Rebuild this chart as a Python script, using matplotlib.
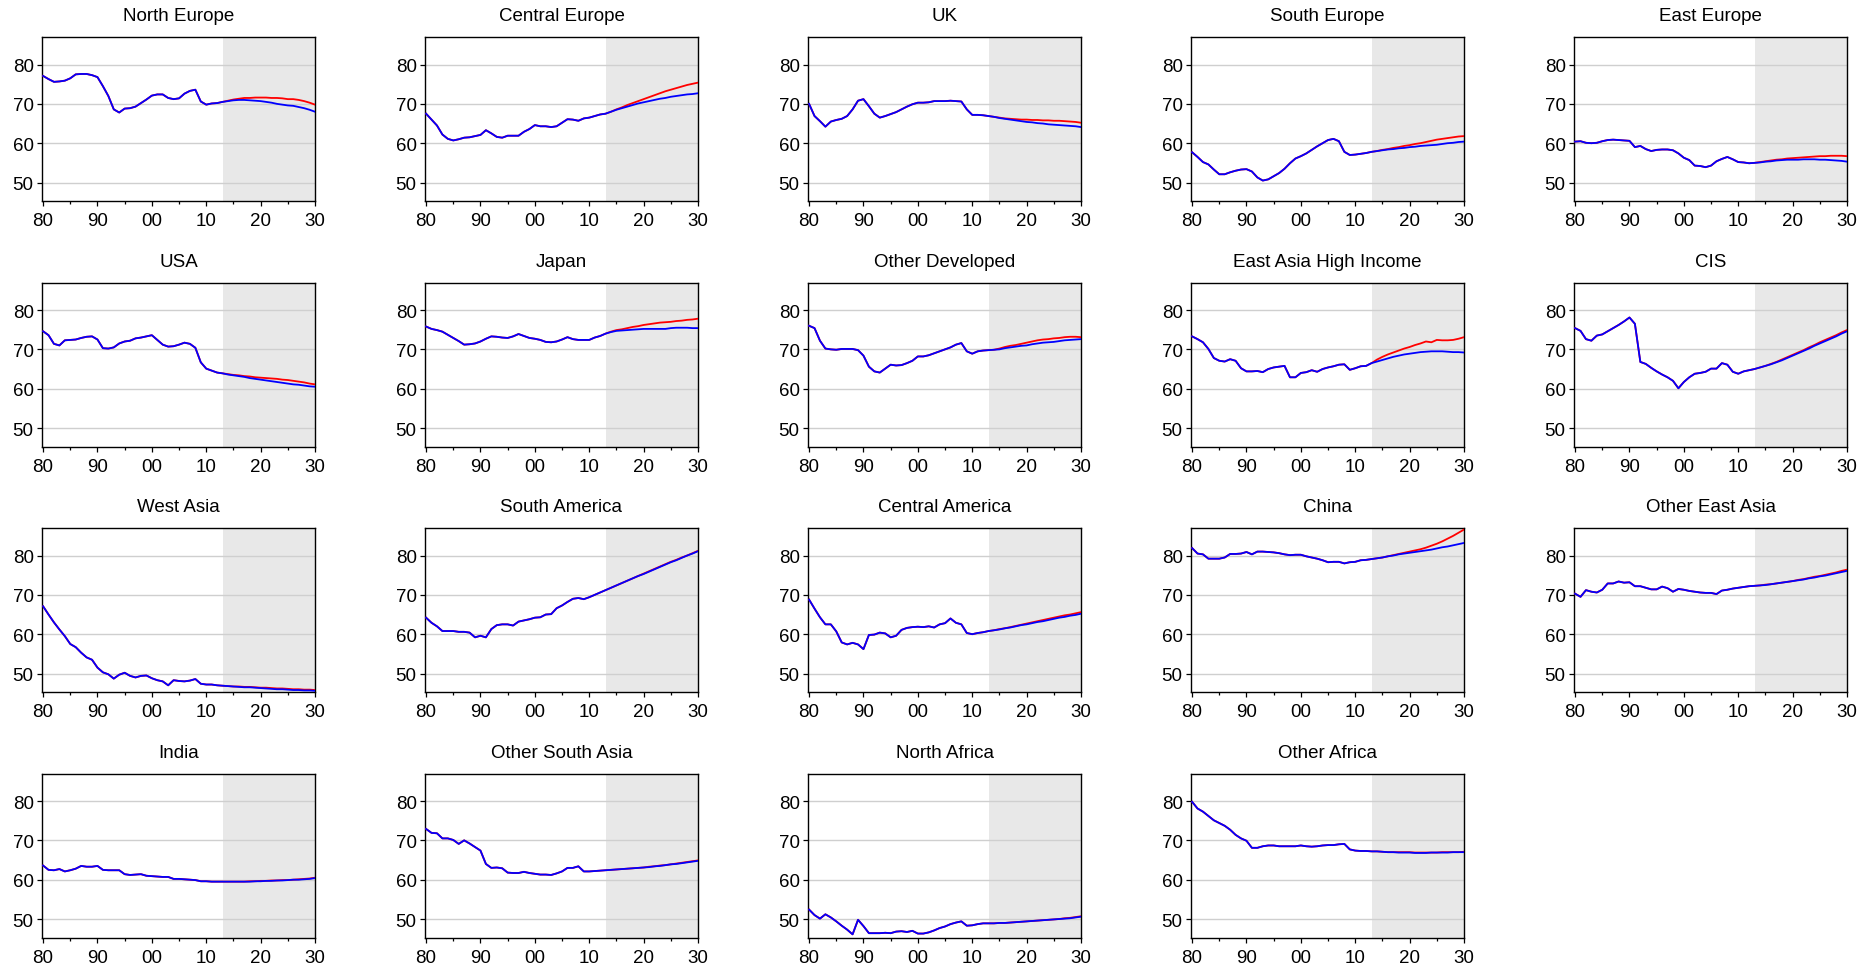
import matplotlib
matplotlib.use("Agg")
import matplotlib.pyplot as plt
from matplotlib.ticker import FixedLocator, FuncFormatter

# ─── DATA ──────────────────────────────────────────────────────────────────────
YEARS_HIST = list(range(1980, 2014))   # shared history, 1980-2013
YEARS_FC   = list(range(2014, 2031))   # forecast, 2014-2030
SHADE_START = 2013

REGIONS = [
    "North Europe", "Central Europe", "UK", "South Europe", "East Europe",
    "USA", "Japan", "Other Developed", "East Asia High Income", "CIS",
    "West Asia", "South America", "Central America", "China", "Other East Asia",
    "India", "Other South Asia", "North Africa", "Other Africa",
]

HIST = {
    "North Europe": [77.1, 76.3, 75.6, 75.7, 75.9, 76.5, 77.5, 77.6, 77.6, 77.3,
                     76.8, 74.5, 72.0, 68.6, 67.8, 68.8, 68.9, 69.3, 70.2, 71.1,
                     72.1, 72.4, 72.4, 71.5, 71.2, 71.4, 72.6, 73.3, 73.6, 70.6,
                     69.8, 70.1, 70.2, 70.5],
    "Central Europe": [67.5, 66.0, 64.5, 62.2, 61.1, 60.7, 61.0, 61.4, 61.5, 61.8,
                       62.1, 63.3, 62.5, 61.6, 61.4, 61.9, 61.9, 61.9, 62.9, 63.6,
                       64.6, 64.3, 64.3, 64.1, 64.3, 65.2, 66.1, 66.0, 65.7, 66.3,
                       66.5, 66.9, 67.3, 67.5],
    "UK": [70.0, 66.9, 65.6, 64.2, 65.5, 65.9, 66.2, 66.9, 68.6, 70.8,
           71.2, 69.4, 67.5, 66.5, 66.9, 67.4, 67.9, 68.6, 69.3, 69.9,
           70.3, 70.3, 70.4, 70.7, 70.7, 70.7, 70.8, 70.7, 70.6, 68.6,
           67.2, 67.2, 67.1, 66.9],
    "South Europe": [57.7, 56.5, 55.2, 54.6, 53.3, 52.1, 52.1, 52.6, 53.0, 53.3,
                     53.4, 52.8, 51.3, 50.5, 50.8, 51.6, 52.4, 53.5, 54.9, 56.1,
                     56.7, 57.4, 58.3, 59.2, 60.0, 60.8, 61.1, 60.5, 57.8, 57.0,
                     57.1, 57.3, 57.5, 57.8],
    "East Europe": [60.4, 60.5, 60.1, 60.0, 60.1, 60.5, 60.8, 60.9, 60.8, 60.7,
                    60.6, 59.0, 59.3, 58.5, 58.0, 58.3, 58.4, 58.4, 58.2, 57.4,
                    56.3, 55.7, 54.3, 54.2, 53.9, 54.3, 55.4, 56.0, 56.5, 55.9,
                    55.2, 55.1, 54.9, 55.0],
    "USA": [74.6, 73.6, 71.4, 71.0, 72.3, 72.4, 72.5, 72.9, 73.2, 73.3,
            72.5, 70.3, 70.2, 70.5, 71.5, 72.0, 72.2, 72.8, 73.0, 73.3,
            73.6, 72.4, 71.2, 70.7, 70.8, 71.2, 71.7, 71.4, 70.4, 66.7,
            65.1, 64.6, 64.1, 63.9],
    "Japan": [75.8, 75.2, 74.9, 74.5, 73.7, 72.9, 72.1, 71.2, 71.3, 71.5,
              72.0, 72.7, 73.3, 73.2, 73.0, 72.9, 73.3, 73.9, 73.4, 72.9,
              72.7, 72.4, 71.9, 71.8, 72.0, 72.5, 73.1, 72.6, 72.4, 72.4,
              72.4, 73.0, 73.4, 74.0],
    "Other Developed": [76.0, 75.4, 72.2, 70.2, 70.0, 69.9, 70.1, 70.1, 70.1, 69.8,
                        68.4, 65.6, 64.4, 64.1, 65.1, 66.1, 65.9, 66.0, 66.5, 67.1,
                        68.2, 68.2, 68.5, 69.0, 69.5, 70.0, 70.5, 71.2, 71.6, 69.5,
                        68.9, 69.5, 69.7, 69.8],
    "East Asia High Income": [73.3, 72.6, 71.8, 70.1, 67.8, 67.1, 66.9, 67.5, 67.1, 65.2,
                              64.4, 64.4, 64.5, 64.2, 65.0, 65.4, 65.6, 65.8, 62.9, 62.9,
                              64.0, 64.2, 64.7, 64.3, 65.0, 65.4, 65.7, 66.1, 66.2, 64.8,
                              65.2, 65.7, 65.8, 66.5],
    "CIS": [75.4, 74.7, 72.6, 72.2, 73.5, 73.8, 74.6, 75.4, 76.2, 77.1,
            78.1, 76.5, 66.8, 66.3, 65.3, 64.4, 63.6, 62.9, 62.0, 60.1,
            61.7, 62.9, 63.8, 64.0, 64.3, 65.1, 65.1, 66.5, 66.1, 64.3,
            63.8, 64.4, 64.7, 65.0],
    "West Asia": [67.1, 65.0, 63.0, 61.2, 59.5, 57.5, 56.7, 55.3, 54.1, 53.5,
                  51.5, 50.3, 49.8, 48.7, 49.7, 50.2, 49.4, 49.0, 49.4, 49.5,
                  48.8, 48.3, 48.0, 47.0, 48.3, 48.1, 48.0, 48.2, 48.6, 47.4,
                  47.2, 47.2, 47.0, 46.9],
    "South America": [64.2, 62.9, 62.0, 60.8, 60.8, 60.8, 60.6, 60.6, 60.4, 59.2,
                      59.6, 59.2, 61.3, 62.3, 62.5, 62.5, 62.2, 63.2, 63.5, 63.8,
                      64.2, 64.3, 65.0, 65.1, 66.6, 67.3, 68.2, 69.0, 69.2, 68.9,
                      69.4, 70.0, 70.6, 71.2],
    "Central America": [68.8, 66.5, 64.3, 62.5, 62.5, 60.7, 57.9, 57.4, 57.8, 57.4,
                        56.2, 59.8, 59.9, 60.4, 60.2, 59.2, 59.6, 61.1, 61.6, 61.8,
                        61.9, 61.8, 62.0, 61.7, 62.5, 62.8, 64.0, 62.9, 62.5, 60.3,
                        60.0, 60.3, 60.5, 60.8],
    "China": [81.9, 80.5, 80.3, 79.2, 79.2, 79.2, 79.5, 80.4, 80.4, 80.5,
              80.9, 80.3, 81.0, 81.0, 80.9, 80.8, 80.6, 80.3, 80.1, 80.2,
              80.2, 79.8, 79.5, 79.2, 78.8, 78.3, 78.4, 78.4, 78.0, 78.3,
              78.4, 78.8, 78.9, 79.1],
    "Other East Asia": [70.3, 69.5, 71.2, 70.8, 70.6, 71.3, 72.9, 72.9, 73.4, 73.1,
                        73.2, 72.2, 72.2, 71.8, 71.4, 71.4, 72.1, 71.7, 70.8, 71.5,
                        71.3, 71.0, 70.8, 70.6, 70.5, 70.5, 70.2, 71.1, 71.3, 71.6,
                        71.8, 72.0, 72.2, 72.3],
    "India": [63.6, 62.5, 62.4, 62.7, 62.1, 62.4, 62.8, 63.5, 63.3, 63.3,
              63.5, 62.5, 62.4, 62.4, 62.4, 61.4, 61.2, 61.3, 61.4, 61.0,
              60.9, 60.8, 60.7, 60.7, 60.2, 60.2, 60.1, 60.0, 59.9, 59.6,
              59.6, 59.5, 59.5, 59.5],
    "Other South Asia": [72.9, 71.9, 71.8, 70.5, 70.5, 70.1, 69.1, 70.0, 69.2, 68.3,
                         67.4, 64.0, 63.0, 63.1, 62.9, 61.8, 61.7, 61.7, 62.0, 61.7,
                         61.5, 61.3, 61.3, 61.2, 61.6, 62.1, 63.0, 63.0, 63.4, 62.1,
                         62.1, 62.2, 62.3, 62.4],
    "North Africa": [52.4, 51.0, 50.1, 51.2, 50.4, 49.4, 48.3, 47.3, 46.1, 49.8,
                     48.2, 46.4, 46.4, 46.4, 46.5, 46.4, 46.8, 46.9, 46.7, 47.0,
                     46.3, 46.3, 46.6, 47.1, 47.7, 48.1, 48.7, 49.1, 49.4, 48.3,
                     48.4, 48.7, 48.9, 48.9],
    "Other Africa": [79.8, 78.1, 77.3, 76.2, 75.1, 74.4, 73.7, 72.7, 71.4, 70.5,
                     69.9, 68.1, 68.1, 68.5, 68.7, 68.7, 68.5, 68.5, 68.5, 68.5,
                     68.7, 68.5, 68.4, 68.5, 68.7, 68.8, 68.8, 69.0, 69.1, 67.7,
                     67.4, 67.3, 67.3, 67.2],
}

FC_RED = {
    "North Europe": [70.8, 71.1, 71.3, 71.5, 71.5, 71.6, 71.6, 71.6, 71.5, 71.5, 71.4, 71.2, 71.2, 71.0, 70.7, 70.3, 69.8],
    "Central Europe": [68.0, 68.6, 69.1, 69.7, 70.2, 70.7, 71.2, 71.7, 72.2, 72.7, 73.2, 73.6, 74.0, 74.4, 74.8, 75.1, 75.4],
    "UK": [66.7, 66.5, 66.3, 66.2, 66.1, 66.0, 66.0, 65.9, 65.9, 65.8, 65.8, 65.7, 65.7, 65.6, 65.5, 65.4, 65.2],
    "South Europe": [58.0, 58.3, 58.5, 58.8, 59.0, 59.3, 59.5, 59.8, 60.0, 60.3, 60.6, 60.9, 61.1, 61.3, 61.5, 61.7, 61.8],
    "East Europe": [55.2, 55.4, 55.6, 55.8, 55.9, 56.1, 56.2, 56.3, 56.4, 56.5, 56.6, 56.7, 56.7, 56.8, 56.8, 56.8, 56.7],
    "USA": [63.7, 63.5, 63.4, 63.2, 63.1, 62.9, 62.8, 62.7, 62.6, 62.5, 62.3, 62.2, 62.0, 61.8, 61.6, 61.3, 61.1],
    "Japan": [74.5, 74.9, 75.1, 75.4, 75.7, 75.9, 76.2, 76.4, 76.6, 76.8, 76.9, 77.0, 77.2, 77.3, 77.5, 77.6, 77.8],
    "Other Developed": [69.9, 70.2, 70.6, 70.9, 71.1, 71.4, 71.7, 72.0, 72.3, 72.5, 72.6, 72.8, 72.9, 73.1, 73.2, 73.2, 73.1],
    "East Asia High Income": [67.4, 68.1, 68.7, 69.2, 69.7, 70.2, 70.6, 71.1, 71.5, 72.0, 71.8, 72.4, 72.3, 72.3, 72.4, 72.7, 73.1],
    "CIS": [65.4, 65.8, 66.3, 66.8, 67.4, 68.0, 68.6, 69.2, 69.8, 70.5, 71.1, 71.8, 72.4, 73.0, 73.6, 74.3, 74.9],
    "West Asia": [46.8, 46.7, 46.7, 46.6, 46.6, 46.5, 46.4, 46.4, 46.3, 46.2, 46.2, 46.1, 46.0, 46.0, 45.9, 45.9, 45.8],
    "South America": [71.8, 72.4, 73.0, 73.6, 74.2, 74.8, 75.4, 76.0, 76.6, 77.2, 77.8, 78.4, 78.9, 79.5, 80.0, 80.6, 81.2],
    "Central America": [61.0, 61.3, 61.5, 61.8, 62.1, 62.4, 62.7, 63.0, 63.3, 63.6, 63.9, 64.2, 64.5, 64.8, 65.0, 65.3, 65.6],
    "China": [79.3, 79.5, 79.8, 80.1, 80.4, 80.7, 81.0, 81.3, 81.6, 82.0, 82.5, 83.0, 83.6, 84.3, 85.0, 85.8, 86.6],
    "Other East Asia": [72.4, 72.6, 72.7, 72.9, 73.1, 73.3, 73.5, 73.8, 74.0, 74.3, 74.6, 74.8, 75.1, 75.4, 75.7, 76.1, 76.4],
    "India": [59.5, 59.5, 59.5, 59.5, 59.6, 59.6, 59.7, 59.7, 59.8, 59.8, 59.9, 59.9, 60.0, 60.1, 60.2, 60.3, 60.5],
    "Other South Asia": [62.5, 62.6, 62.7, 62.8, 62.9, 63.0, 63.1, 63.3, 63.4, 63.6, 63.7, 63.9, 64.1, 64.3, 64.5, 64.7, 64.9],
    "North Africa": [48.9, 49.0, 49.0, 49.1, 49.2, 49.3, 49.4, 49.5, 49.6, 49.7, 49.8, 49.9, 50.0, 50.2, 50.3, 50.5, 50.7],
    "Other Africa": [67.2, 67.1, 67.0, 67.0, 67.0, 67.0, 67.0, 66.9, 66.9, 66.9, 66.9, 66.9, 67.0, 67.0, 67.0, 67.0, 67.1],
}

FC_BLUE = {
    "North Europe": [70.7, 70.9, 71.0, 71.0, 70.9, 70.8, 70.7, 70.5, 70.3, 70.0, 69.8, 69.6, 69.5, 69.2, 68.9, 68.5, 68.0],
    "Central Europe": [68.0, 68.5, 68.9, 69.3, 69.7, 70.1, 70.4, 70.7, 71.0, 71.3, 71.5, 71.8, 72.0, 72.2, 72.4, 72.5, 72.7],
    "UK": [66.7, 66.4, 66.2, 66.0, 65.8, 65.6, 65.4, 65.3, 65.1, 65.0, 64.8, 64.7, 64.6, 64.5, 64.4, 64.3, 64.1],
    "South Europe": [58.0, 58.2, 58.4, 58.5, 58.7, 58.8, 59.0, 59.1, 59.3, 59.4, 59.5, 59.6, 59.8, 60.0, 60.1, 60.3, 60.4],
    "East Europe": [55.1, 55.3, 55.4, 55.6, 55.7, 55.8, 55.8, 55.8, 55.9, 55.9, 55.9, 55.8, 55.8, 55.7, 55.6, 55.5, 55.3],
    "USA": [63.6, 63.4, 63.2, 63.0, 62.7, 62.5, 62.3, 62.1, 61.9, 61.7, 61.5, 61.3, 61.1, 61.0, 60.8, 60.6, 60.5],
    "Japan": [74.4, 74.7, 74.8, 74.9, 75.0, 75.1, 75.2, 75.2, 75.2, 75.2, 75.2, 75.4, 75.5, 75.5, 75.5, 75.4, 75.4],
    "Other Developed": [69.9, 70.0, 70.3, 70.5, 70.7, 70.9, 71.0, 71.3, 71.5, 71.7, 71.8, 71.9, 72.1, 72.3, 72.4, 72.5, 72.6],
    "East Asia High Income": [66.9, 67.3, 67.7, 68.1, 68.4, 68.7, 68.9, 69.1, 69.3, 69.4, 69.5, 69.5, 69.5, 69.4, 69.3, 69.3, 69.2],
    "CIS": [65.4, 65.8, 66.2, 66.7, 67.2, 67.8, 68.4, 69.0, 69.6, 70.2, 70.9, 71.5, 72.1, 72.7, 73.3, 74.0, 74.6],
    "West Asia": [46.8, 46.7, 46.6, 46.5, 46.5, 46.4, 46.3, 46.2, 46.1, 46.0, 46.0, 45.9, 45.8, 45.8, 45.7, 45.7, 45.6],
    "South America": [71.8, 72.4, 73.0, 73.6, 74.2, 74.8, 75.3, 75.9, 76.5, 77.1, 77.7, 78.3, 78.8, 79.4, 80.0, 80.5, 81.1],
    "Central America": [61.0, 61.2, 61.5, 61.7, 62.0, 62.3, 62.5, 62.8, 63.1, 63.3, 63.6, 63.9, 64.2, 64.4, 64.7, 64.9, 65.2],
    "China": [79.3, 79.5, 79.8, 80.0, 80.3, 80.5, 80.7, 80.9, 81.1, 81.3, 81.5, 81.8, 82.1, 82.3, 82.6, 82.9, 83.2],
    "Other East Asia": [72.4, 72.5, 72.7, 72.9, 73.1, 73.3, 73.5, 73.7, 73.9, 74.2, 74.4, 74.7, 74.9, 75.2, 75.5, 75.8, 76.1],
    "India": [59.5, 59.5, 59.5, 59.5, 59.5, 59.6, 59.6, 59.7, 59.7, 59.8, 59.8, 59.9, 60.0, 60.0, 60.1, 60.2, 60.4],
    "Other South Asia": [62.5, 62.6, 62.7, 62.8, 62.9, 63.0, 63.1, 63.2, 63.4, 63.5, 63.7, 63.9, 64.0, 64.2, 64.4, 64.6, 64.8],
    "North Africa": [48.9, 49.0, 49.0, 49.1, 49.2, 49.3, 49.4, 49.5, 49.6, 49.7, 49.8, 49.9, 50.0, 50.1, 50.2, 50.4, 50.6],
    "Other Africa": [67.2, 67.1, 67.0, 67.0, 66.9, 66.9, 66.9, 66.8, 66.8, 66.8, 66.9, 66.9, 66.9, 66.9, 67.0, 67.0, 67.0],
}

Y_TICKS = [50, 60, 70, 80]
X_TICKS = [1980, 1990, 2000, 2010, 2020, 2030]
X_MINOR = [1985, 1995, 2005, 2015, 2025]

# ─── LAYOUT (pixels of a 1870x970 canvas) ─────────────────────────────────────
W, H = 1870, 970
N_COLS = 5
AX_LEFT, AX_STEP_X, AX_W = 42, 383, 273
AX_TOP, AX_STEP_Y, AX_H = 38, 245.5, 164

plt.rcParams["font.family"] = ["Liberation Sans", "DejaVu Sans"]
plt.rcParams["font.size"] = 13.5

fig = plt.figure(figsize=(W / 100, H / 100), dpi=100)
years_all = YEARS_HIST + YEARS_FC

for i, name in enumerate(REGIONS):
    row, col = divmod(i, N_COLS)
    left = (AX_LEFT + col * AX_STEP_X) / W
    bottom = 1 - (AX_TOP + row * AX_STEP_Y + AX_H) / H
    ax = fig.add_axes([left, bottom, AX_W / W, AX_H / H])

    ax.axvspan(SHADE_START, 2030, color="#e8e8e8", lw=0, zorder=0)
    ax.plot(years_all, HIST[name] + FC_RED[name], color="#ff0000", lw=1.3, zorder=3)
    ax.plot(years_all, HIST[name] + FC_BLUE[name], color="#0000ff", lw=1.3, zorder=4)

    ax.set_xlim(1979.8, 2030)
    ax.set_ylim(45.3, 87.0)
    ax.yaxis.set_major_locator(FixedLocator(Y_TICKS))
    ax.xaxis.set_major_locator(FixedLocator(X_TICKS))
    ax.xaxis.set_minor_locator(FixedLocator(X_MINOR))
    ax.xaxis.set_major_formatter(FuncFormatter(lambda v, p: f"{int(round(v)) % 100:02d}"))
    ax.grid(axis="y", color="#cfcfcf", lw=1.0, zorder=1)
    ax.set_axisbelow(True)

    ax.tick_params(axis="y", which="major", length=3.5, width=0.9, pad=2.5, labelsize=13.5)
    ax.tick_params(axis="x", which="major", length=3.5, width=0.9, pad=4.5, labelsize=13.5)
    ax.tick_params(axis="x", which="minor", length=2.5, width=0.9)
    for sp in ax.spines.values():
        sp.set_linewidth(1.0)
        sp.set_color("black")

    ax.set_title(name, fontsize=13.5, pad=12)

fig.savefig("out.png", dpi=100)
plt.close(fig)
